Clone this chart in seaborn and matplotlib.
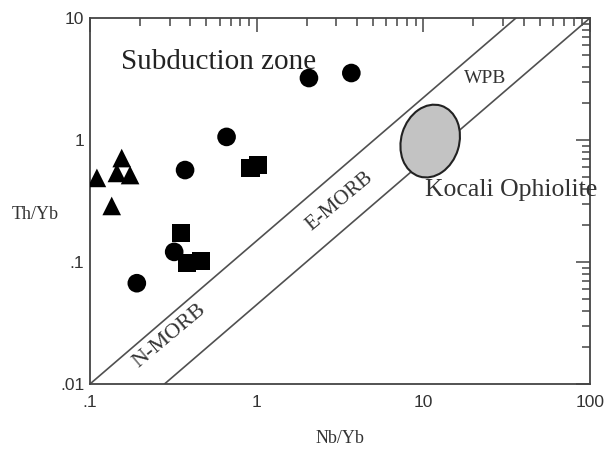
import numpy as np
import pandas as pd
import seaborn as sns
import matplotlib
matplotlib.use("Agg")
import matplotlib.pyplot as plt
from matplotlib.patches import Ellipse
from matplotlib.transforms import ScaledTranslation
from matplotlib.ticker import FixedLocator, LogLocator, NullFormatter, FixedFormatter

# ---- data ----
tri_nb = [0.110, 0.135, 0.155, 0.145, 0.174]
tri_th = [0.489, 0.288, 0.711, 0.537, 0.516]

cir_nb = [0.372, 0.66, 0.32, 0.191, 2.06, 3.70]
cir_th = [0.567, 1.06, 0.121, 0.067, 3.22, 3.54]

sq_nb = [0.352, 0.383, 0.463, 0.915, 1.02]
sq_th = [0.173, 0.098, 0.102, 0.589, 0.624]

# MORB-OIB array boundaries (endpoints)
array_upper_x = [0.1, 36.0]
array_upper_y = [0.01, 10.0]
array_lower_x = [0.28, 100.0]
array_lower_y = [0.01, 10.0]

# Kocali Ophiolite field centre
field_x, field_y = 11.0, 0.98

x_ticks = [0.1, 1, 10, 100]
x_ticklabels = [".1", "1", "10", "100"]
y_ticks = [0.01, 0.1, 1, 10]
y_ticklabels = [".01", ".1", "1", "10"]

df = pd.DataFrame({
    "Nb/Yb": tri_nb + cir_nb + sq_nb,
    "Th/Yb": tri_th + cir_th + sq_th,
    "grp": ["tri"] * len(tri_nb) + ["cir"] * len(cir_nb) + ["sq"] * len(sq_nb),
})

sns.set_style("white")
plt.rcParams["font.family"] = ["Liberation Serif", "DejaVu Serif"]

fig = plt.figure(figsize=(6.06, 4.5), dpi=100)
ax = fig.add_axes([0.1485, 0.1467, 0.8250, 0.8133])

sns.scatterplot(data=df, x="Nb/Yb", y="Th/Yb", style="grp",
                markers={"tri": "^", "cir": "o", "sq": "s"},
                color="black", edgecolor="black", linewidth=0, s=180,
                legend=False, ax=ax, zorder=3)

ax.set_xscale("log")
ax.set_yscale("log")
ax.set_xlim(0.1, 100)
ax.set_ylim(0.01, 10)

lc = "#505050"
ax.plot(array_upper_x, array_upper_y, color=lc, lw=1.2, zorder=2)
ax.plot(array_lower_x, array_lower_y, color=lc, lw=1.2, zorder=2)

# ellipse field drawn in display units around the data centre
ell = Ellipse((0, 0), width=0.58, height=0.74, angle=-17,
              facecolor="#c3c3c3", edgecolor="#222222", lw=1.5,
              transform=fig.dpi_scale_trans + ScaledTranslation(field_x, field_y, ax.transData),
              zorder=2)
ax.add_patch(ell)

# texts
ax.text(0.063, 0.88, "Subduction zone", transform=ax.transAxes,
        fontsize=21, color="#222222", va="center", ha="left")
ax.text(0.67, 0.53, "Kocali Ophiolite", transform=ax.transAxes,
        fontsize=18.5, color="#333333", va="center", ha="left")

rot = 40
ax.text(0.79, 0.834, "WPB", transform=ax.transAxes, fontsize=14,
        color="#333333", rotation=0, ha="center", va="center")
ax.text(0.50, 0.50, "E-MORB", transform=ax.transAxes, fontsize=15,
        color="#333333", rotation=rot, ha="center", va="center",
        rotation_mode="anchor")
ax.text(0.16, 0.13, "N-MORB", transform=ax.transAxes, fontsize=16,
        color="#333333", rotation=rot, ha="center", va="center",
        rotation_mode="anchor")

# axes styling
for sp in ax.spines.values():
    sp.set_visible(True)
    sp.set_color("#444444")
    sp.set_linewidth(1.3)

ax.xaxis.set_major_locator(FixedLocator(x_ticks))
ax.xaxis.set_major_formatter(FixedFormatter(x_ticklabels))
ax.yaxis.set_major_locator(FixedLocator(y_ticks))
ax.yaxis.set_major_formatter(FixedFormatter(y_ticklabels))
ax.xaxis.set_minor_locator(LogLocator(base=10, subs=np.arange(2, 10)))
ax.yaxis.set_minor_locator(LogLocator(base=10, subs=np.arange(2, 10)))
ax.xaxis.set_minor_formatter(NullFormatter())
ax.yaxis.set_minor_formatter(NullFormatter())
ax.tick_params(which="both", direction="in", top=True, right=True,
               color="#444444", width=1.1)
ax.tick_params(which="major", length=10, labelsize=12.5)
ax.tick_params(which="minor", length=6)
ax.tick_params(axis="x", which="major", pad=8)
ax.tick_params(axis="y", which="major", pad=4)
for lab in ax.get_xticklabels() + ax.get_yticklabels():
    lab.set_fontfamily(["Liberation Sans", "DejaVu Sans"])
    lab.set_color("#333333")

ax.set_xlabel("Nb/Yb", fontsize=13, color="#333333", labelpad=14)
ax.set_ylabel("Th/Yb", fontsize=13, color="#333333", rotation=0)
ax.yaxis.set_label_coords(-0.11, 0.44)

fig.savefig("out.png", dpi=100, facecolor="white")
